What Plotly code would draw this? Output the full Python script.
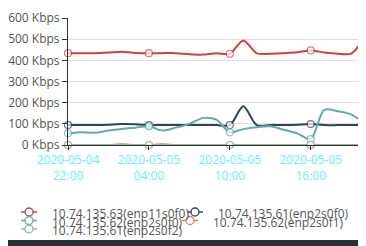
import plotly.graph_objects as go
import pandas as pd

times = pd.date_range("2020-05-04 22:00", "2020-05-05 20:00", freq="1h")

series_names = [
    "10.74.135.63(enp11s0f0)",
    "10.74.135.61(enp2s0f0)",
    "10.74.135.62(enp2s0f0)",
    "10.74.135.62(enp2s0f1)",
    "10.74.135.61(enp2s0f2)",
]

red_vals = [434, 434, 434, 437, 441, 435, 434, 434, 434, 429, 427, 433,
            431, 494, 433, 431, 434, 438, 447, 437, 431, 432, 508]
navy_vals = [94, 94, 94, 96, 99, 98, 94, 94, 94, 94, 94, 94,
             94, 183, 94, 94, 94, 96, 99, 94, 94, 94, 94]
teal_vals = [55, 60, 58, 68, 76, 82, 88, 68, 82, 100, 127, 120,
             60, 75, 84, 88, 72, 55, 28, 166, 160, 145, 100]
salmon_vals = [0, 0, 0, 0, 3, 0, 0, 3, 0, 0, 0, 0,
               0, 0, 0, 0, 0, 0, 0, 0, 0, 0, 0]
green_vals = [0] * 23

y_ticks = [0, 100, 200, 300, 400, 500, 600]
y_tick_text = [f"{v} Kbps" for v in y_ticks]
x_tick_times = ["2020-05-04 22:00", "2020-05-05 04:00", "2020-05-05 10:00", "2020-05-05 16:00"]
x_tick_text = ["2020-05-04<br>22:00", "2020-05-05<br>04:00", "2020-05-05<br>10:00", "2020-05-05<br>16:00"]

colors = ["#cf4040", "#2f4554", "#61a8b0", "#d48265", "#8fb39b"]
all_vals = [red_vals, navy_vals, teal_vals, salmon_vals, green_vals]

# page has an 8px body margin; figure is laid out in page pixels minus 8
OFF = 8
W, H = 366 - OFF, 246 - OFF
PL, PT, PB = 68, 18, 145          # plot area edges in page pixels
L, T = PL - OFF, PT - OFF
PW, PH = W - L, PB - PT
B = H - T - PH

def px(x):
    return (x - PL) / PW

def py(y):
    return (PB - y) / PH

marker_sizes = [7 if i % 6 == 0 else 0 for i in range(len(times))]

fig = go.Figure()
for name, vals, col in zip(series_names, all_vals, colors):
    fig.add_trace(go.Scatter(
        x=times, y=vals, name=name, mode="lines+markers",
        line=dict(color=col, width=2, shape="spline", smoothing=0.8),
        marker=dict(size=marker_sizes, color="white", line=dict(color=col, width=1.2)),
        cliponaxis=False, showlegend=False,
    ))

# manual compact legend (bottom)
legend_pos = [(21, 212, 0), (187, 212, 1), (21, 220.5, 2), (182, 220.5, 3), (21, 229, 4)]
shapes = []
annotations = []
for (x0, yc, idx) in legend_pos:
    col = colors[idx]
    shapes.append(dict(type="line", xref="paper", yref="paper",
                       x0=px(x0), x1=px(x0 + 16), y0=py(yc), y1=py(yc),
                       line=dict(color=col, width=1.5)))
    cx = x0 + 8
    shapes.append(dict(type="circle", xref="paper", yref="paper",
                       x0=px(cx - 4), x1=px(cx + 4), y0=py(yc - 4), y1=py(yc + 4),
                       fillcolor="white", line=dict(color=col, width=1.3)))
    annotations.append(dict(xref="paper", yref="paper", x=px(x0 + 29), y=py(yc + 1.5),
                            text=series_names[idx], showarrow=False, xanchor="left",
                            yanchor="middle", font=dict(size=12, color="#555",
                                                        family="Open Sans")))
# dark band at bottom
shapes.append(dict(type="rect", xref="paper", yref="paper", x0=px(0), x1=px(380),
                   y0=py(240), y1=py(252), fillcolor="#2b2f36", line=dict(width=0),
                   layer="above"))

fig.update_layout(
    width=W, height=H,
    margin=dict(l=L, r=0, t=T, b=B, pad=0),
    paper_bgcolor="white", plot_bgcolor="white",
    font=dict(family="Open Sans", size=12, color="#555"),
    shapes=shapes, annotations=annotations,
    xaxis=dict(
        range=[pd.Timestamp("2020-05-04 22:00"), pd.Timestamp("2020-05-05 20:06")],
        tickmode="array", tickvals=pd.to_datetime(x_tick_times), ticktext=x_tick_text,
        tickfont=dict(color="#5ff0fb", size=12),
        showgrid=False, showline=True, linecolor="#333", linewidth=1,
        ticks="outside", ticklen=4, tickcolor="#333", zeroline=False,
    ),
    yaxis=dict(
        range=[0, 600], tickmode="array", tickvals=y_ticks, ticktext=y_tick_text,
        showgrid=True, gridcolor="#e0e0e0", gridwidth=1,
        showline=True, linecolor="#333", linewidth=1,
        ticks="outside", ticklen=5, tickcolor="#333", zeroline=False,
        tickfont=dict(color="#555", size=12),
    ),
)

fig.write_html("out.html")
